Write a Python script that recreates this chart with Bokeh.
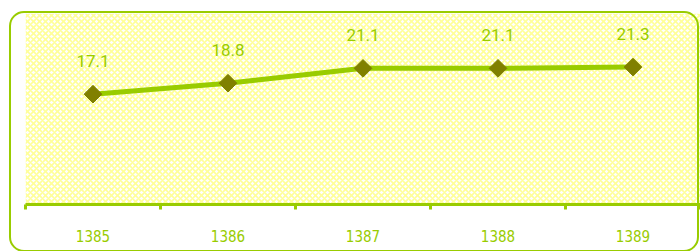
from bokeh.plotting import figure
from bokeh.models import Range1d, FixedTicker, BoxAnnotation, ColumnDataSource, InlineStyleSheet
from bokeh.core.properties import value
from bokeh.embed import file_html
from bokeh.resources import INLINE
import math

years = ["1385", "1386", "1387", "1388", "1389"]
values = [17.1, 18.8, 21.1, 21.1, 21.3]
value_labels = ["17.1", "18.8", "21.1", "21.1", "21.3"]

GREEN = "#99cc00"
OLIVE = "#808000"

xs = [i + 0.5 for i in range(len(years))]
src = ColumnDataSource(dict(x=xs, y=values, lbl=value_labels))

p = figure(width=700, height=251, output_backend="svg", toolbar_location=None,
           x_range=Range1d(0, len(years)), y_range=Range1d(0, 29.6),
           y_axis_location=None, min_border_left=25, min_border_right=0,
           min_border_top=13, min_border_bottom=47)
p.outline_line_color = None
p.grid.visible = False
p.background_fill_color = "#ffffff"
p.border_fill_color = "#ffffff"

# rounded outer frame around the whole chart
p.stylesheets = [InlineStyleSheet(css="""
:host { position: relative; }
:host::after {
  content: ""; position: absolute; left: 9px; top: 11px;
  width: 690px; height: 241px; box-sizing: border-box;
  border: 2.5px solid #99cc00; border-radius: 15px;
  pointer-events: none; z-index: 10;
}
""")]

# textured background of the plotting area
p.add_layout(BoxAnnotation(fill_color="#ffffff", fill_alpha=1.0, line_color=None,
                           hatch_pattern="diagonal_cross", hatch_color="#ffff99",
                           hatch_alpha=1.0, hatch_scale=6, hatch_weight=1.6,
                           level="underlay"))

p.line("x", "y", source=src, line_color=GREEN, line_width=5)
p.scatter("x", "y", source=src, marker="square", size=12.5, angle=math.pi / 4,
          fill_color=OLIVE, line_color=OLIVE)
p.text("x", "y", text="lbl", source=src, y_offset=-33, text_align="center",
       text_baseline="middle", text_font=value("Roboto"), text_font_size="17px",
       text_color=GREEN)

ax = p.xaxis[0]
ax.ticker = FixedTicker(ticks=xs, minor_ticks=list(range(len(years) + 1)))
ax.major_label_overrides = {x: y for x, y in zip(xs, years)}
ax.axis_line_color = GREEN
ax.axis_line_width = 3
ax.major_tick_line_color = None
ax.major_tick_out = 0
ax.major_tick_in = 0
ax.minor_tick_line_color = GREEN
ax.minor_tick_line_width = 3
ax.minor_tick_out = 5
ax.minor_tick_in = 0
ax.major_label_text_font = "DejaVu Sans Condensed"
ax.major_label_text_font_size = "15px"
ax.major_label_text_color = GREEN
ax.major_label_standoff = 20

open("out.html", "w").write(file_html(p, INLINE))
